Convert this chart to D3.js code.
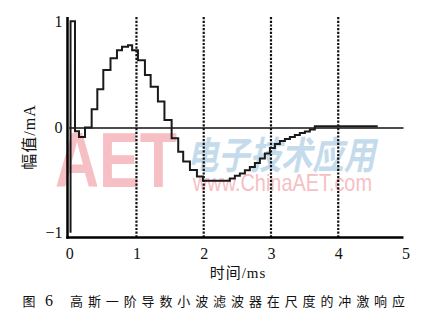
<!DOCTYPE html>
<html>
<head>
<meta charset="UTF-8">
<title>冲激响应</title>
<style>
  body { margin: 0; background: #fff; }
  svg { display: block; }
  .tick text { font-family: "Liberation Serif", serif; font-size: 16px; fill: #111; }
  .lab { font-family: "Liberation Serif", "Noto Sans CJK SC", serif; fill: #111; }
</style>
</head>
<body>
<svg width="425" height="323"></svg>
<script src="https://cdn.jsdelivr.net/npm/d3@7"></script>
<script>
// stepped impulse response, each level starts at stepTime[i] (ms)
var stepTime = [0.02, 0.02, 0.086, 0.146, 0.235, 0.334, 0.418, 0.507, 0.614, 0.710,
                0.785, 0.874, 0.936, 1.022, 1.126, 1.211, 1.319, 1.416, 1.523, 1.621,
                1.695, 1.795, 1.899, 1.988, 2.389, 2.463, 2.537, 2.612, 2.686, 2.761,
                2.835, 2.909, 2.984, 3.058, 3.132, 3.207, 3.281, 3.355, 3.429, 3.504,
                3.578, 3.652, 4.587];
var stepLevel = [-1, 1, -0.04, -0.094, -0.005, 0.167, 0.356, 0.538, 0.651, 0.726,
                 0.758, 0.774, 0.726, 0.632, 0.491, 0.380, 0.240, 0.066, -0.107, -0.233,
                 -0.327, -0.406, -0.469, -0.509, -0.486, -0.462, -0.439, -0.410, -0.377, -0.340,
                 -0.297, -0.250, -0.198, -0.160, -0.132, -0.113, -0.094, -0.075, -0.057, -0.042,
                 -0.024, 0.007, 0.007];
var xTicks = [0, 1, 2, 3, 4, 5];
var yTicks = [-1, 0, 1];
var gridTimes = [1, 2, 3, 4];

var svg = d3.select("svg");
var x = d3.scaleLinear().domain([0, 5]).range([69.2, 405.5]);
var y = d3.scaleLinear().domain([-1.04, 1.04]).range([237, 17]);

// watermark
var wm = svg.append("g");
wm.append("text").text("AET")
    .attr("x", 55).attr("y", 187)
    .attr("textLength", 122).attr("lengthAdjust", "spacingAndGlyphs")
    .style("font-family", "Liberation Sans, Arial, sans-serif")
    .style("font-size", "78px").style("font-weight", "bold")
    .style("fill", "#f3a4ab").style("opacity", 0.7);
wm.append("text").text("电子技术应用")
    .attr("x", 187).attr("y", 169)
    .attr("textLength", 188).attr("lengthAdjust", "spacingAndGlyphs")
    .style("font-family", "Noto Sans CJK SC")
    .style("font-size", "38px").style("font-weight", "bold").style("font-style", "italic")
    .style("fill", "#a6c8e2").style("opacity", 0.65);
wm.append("text").text("www.ChinaAET.com")
    .attr("x", 193).attr("y", 191)
    .attr("textLength", 179).attr("lengthAdjust", "spacingAndGlyphs")
    .style("font-family", "Liberation Sans, Arial, sans-serif")
    .style("font-size", "24px")
    .style("fill", "#f3aab0").style("opacity", 0.75);

// dotted verticals
svg.append("g").selectAll("line")
    .data(gridTimes).enter().append("line")
    .attr("x1", function (d) { return x(d); })
    .attr("x2", function (d) { return x(d); })
    .attr("y1", y(1.04)).attr("y2", y(-1.04))
    .attr("stroke", "#111").attr("stroke-width", 2.2)
    .attr("stroke-dasharray", "2.2,1.5");

// zero line
svg.append("line")
    .attr("x1", x(0)).attr("x2", x(5) - 2)
    .attr("y1", y(0) + 1).attr("y2", y(0) + 1)
    .attr("stroke", "#111").attr("stroke-width", 1.5);

// signal
var line = d3.line()
    .x(function (d) { return x(d[0]); })
    .y(function (d) { return y(d[1]); })
    .curve(d3.curveStepAfter);
svg.append("path")
    .datum(d3.zip(stepTime, stepLevel))
    .attr("d", line)
    .attr("fill", "none")
    .attr("stroke", "#1a1a1a")
    .attr("stroke-width", 2);

// axes
svg.append("g")
    .attr("transform", "translate(0,237.5)")
    .call(d3.axisBottom(x).tickValues(xTicks).tickSize(0).tickPadding(10).tickFormat(d3.format("d")))
    .call(function (g) { g.select(".domain").remove(); });
svg.append("g")
    .attr("transform", "translate(67.5,0)")
    .call(d3.axisLeft(y).tickValues(yTicks).tickSize(0).tickPadding(5).tickFormat(d3.format("d")))
    .call(function (g) { g.select(".domain").remove(); });

svg.append("line")
    .attr("x1", 67.5).attr("x2", 67.5)
    .attr("y1", y(1.04)).attr("y2", 238.7)
    .attr("stroke", "#000").attr("stroke-width", 2.5);
svg.append("line")
    .attr("x1", 66.3).attr("x2", x(5) - 2)
    .attr("y1", 237.5).attr("y2", 237.5)
    .attr("stroke", "#000").attr("stroke-width", 2.5);

// axis titles
svg.append("text").attr("class", "lab")
    .attr("x", 238).attr("y", 278)
    .attr("text-anchor", "middle")
    .style("font-size", "15px").style("letter-spacing", "1px")
    .text("时间/ms");
svg.append("text").attr("class", "lab")
    .attr("transform", "translate(35,137) rotate(-90)")
    .attr("text-anchor", "middle")
    .style("font-size", "16px").style("letter-spacing", "1px")
    .text("幅值/mA");

// caption
svg.append("text").attr("class", "lab")
    .attr("x", 22.5).attr("y", 306)
    .style("font-size", "13px")
    .text("图");
svg.append("text").attr("class", "lab")
    .attr("x", 45).attr("y", 306)
    .style("font-size", "16px")
    .text("6");
svg.append("text").attr("class", "lab")
    .attr("x", 70).attr("y", 306)
    .attr("textLength", 335).attr("lengthAdjust", "spacing")
    .style("font-size", "13px")
    .text("高斯一阶导数小波滤波器在尺度的冲激响应");
</script>
</body>
</html>
